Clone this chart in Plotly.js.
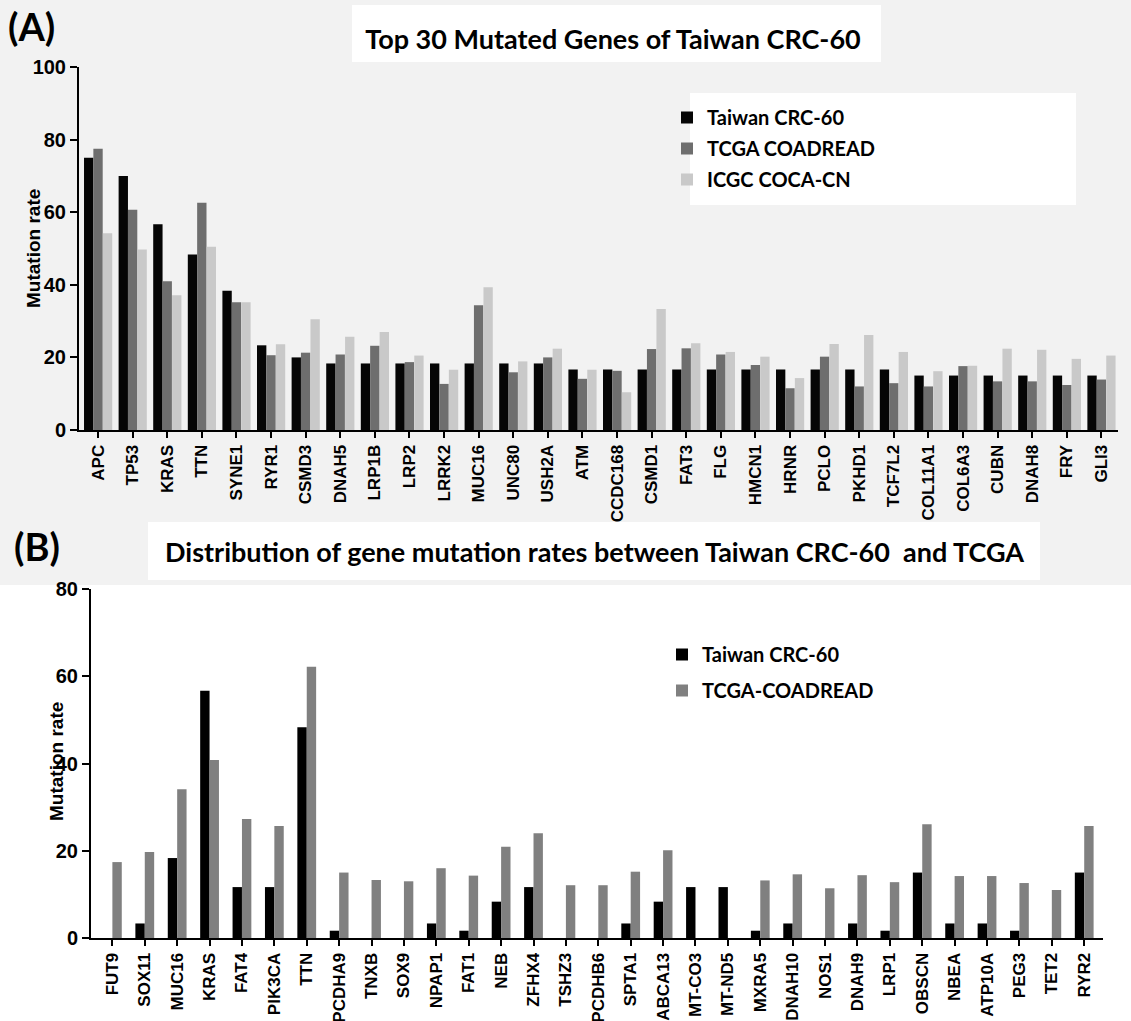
<!DOCTYPE html>
<html>
<head>
<meta charset="utf-8">
<script src="https://cdn.plot.ly/plotly-3.0.1.min.js"></script>
<style>html,body{margin:0;padding:0;background:#fff;}#chart{width:1131px;height:1021px;}</style>
</head>
<body>
<div id="chart"></div>
<script>
// ---------- Panel A data ----------
const genesA = ["APC","TP53","KRAS","TTN","SYNE1","RYR1","CSMD3","DNAH5","LRP1B","LRP2","LRRK2","MUC16","UNC80","USH2A","ATM","CCDC168","CSMD1","FAT3","FLG","HMCN1","HRNR","PCLO","PKHD1","TCF7L2","COL11A1","COL6A3","CUBN","DNAH8","FRY","GLI3"];
const taiwanA = [75,70,56.67,48.33,38.33,23.33,20,18.33,18.33,18.33,18.33,18.33,18.33,18.33,16.67,16.67,16.67,16.67,16.67,16.67,16.67,16.67,16.67,16.67,15,15,15,15,15,15];
const tcgaA = [77.5,60.7,41.0,62.6,35.2,20.6,21.3,20.8,23.2,18.7,12.7,34.4,15.9,20.0,14.1,16.3,22.3,22.5,20.8,17.9,11.5,20.2,12.0,12.9,12.0,17.6,13.4,13.4,12.4,13.9];
const icgcA = [54.2,49.7,37.1,50.5,35.2,23.6,30.5,25.7,27.0,20.5,16.6,39.3,18.9,22.4,16.6,10.4,33.3,23.9,21.5,20.2,14.3,23.7,26.2,21.5,16.2,17.7,22.4,22.1,19.6,20.5];
const seriesA = ["Taiwan CRC-60","TCGA COADREAD","ICGC COCA-CN"];

// ---------- Panel B data ----------
const genesB = ["FUT9","SOX11","MUC16","KRAS","FAT4","PIK3CA","TTN","PCDHA9","TNXB","SOX9","NPAP1","FAT1","NEB","ZFHX4","TSHZ3","PCDHB6","SPTA1","ABCA13","MT-CO3","MT-ND5","MXRA5","DNAH10","NOS1","DNAH9","LRP1","OBSCN","NBEA","ATP10A","PEG3","TET2","RYR2"];
const taiwanB = [0,3.33,18.33,56.67,11.67,11.67,48.33,1.67,0,0,3.33,1.67,8.33,11.67,0,0,3.33,8.33,11.67,11.67,1.67,3.33,0,3.33,1.67,15,3.33,3.33,1.67,0,15];
const tcgaB = [17.4,19.7,34.1,40.8,27.3,25.7,62.2,15.0,13.3,13.0,16.0,14.3,20.9,24.0,12.1,12.1,15.2,20.1,0,0,13.2,14.6,11.4,14.4,12.8,26.1,14.2,14.2,12.6,11.0,25.7];
const seriesB = ["Taiwan CRC-60","TCGA-COADREAD"];

const titleA = "Top 30 Mutated Genes of Taiwan CRC-60";
const titleB = "Distribution of gene mutation rates between Taiwan CRC-60  and TCGA";

// ---------- helpers (pixel -> paper) ----------
const W = 1131, H = 1021;
const px = x => x / W;
const py = y => 1 - y / H;

const tickFont = {family: "Liberation Sans, Arial, sans-serif", size: 17, color: "#000", weight: "bold"};
const yTickFont = {family: "Liberation Sans, Arial, sans-serif", size: 20, color: "#000", weight: "bold"};
const calFont = {family: "Lato, 'Open Sans', sans-serif", color: "#000", weight: "bold"};

const wA = 0.27, wB = 0.29;
const traces = [
  {type: "bar", name: seriesA[0], x: genesA, y: taiwanA, xaxis: "x", yaxis: "y", width: wA, offset: -0.405, marker: {color: "#050505"}, legend: "legend", legendgroup: "a1"},
  {type: "bar", name: seriesA[1], x: genesA, y: tcgaA, xaxis: "x", yaxis: "y", width: wA, offset: -0.135, marker: {color: "#6e6e6e"}, legend: "legend", legendgroup: "a2"},
  {type: "bar", name: seriesA[2], x: genesA, y: icgcA, xaxis: "x", yaxis: "y", width: wA, offset: 0.14, marker: {color: "#c9c9c9"}, legend: "legend", legendgroup: "a3"},
  {type: "bar", name: seriesB[0], x: genesB, y: taiwanB, xaxis: "x2", yaxis: "y2", width: wB, offset: -0.29, marker: {color: "#000000"}, legend: "legend2", legendgroup: "b1"},
  {type: "bar", name: seriesB[1], x: genesB, y: tcgaB, xaxis: "x2", yaxis: "y2", width: wB, offset: 0, marker: {color: "#808080"}, legend: "legend2", legendgroup: "b2"}
];

const xCommon = {
  type: "category", showline: true, linecolor: "#000", linewidth: 2, mirror: false,
  ticks: "outside", ticklen: 6, tickwidth: 2, tickcolor: "#000",
  tickangle: -90, tickfont: tickFont, showgrid: false, zeroline: false, automargin: false, fixedrange: true
};
const yCommon = {
  showline: true, linecolor: "#000", linewidth: 2, ticks: "outside", ticklen: 7, tickwidth: 2, tickcolor: "#000",
  tickfont: yTickFont, showgrid: false, zeroline: false, dtick: 20, automargin: false
};

const layout = {
  width: W, height: H,
  margin: {l: 0, r: 0, t: 0, b: 0},
  paper_bgcolor: "#ffffff", plot_bgcolor: "rgba(0,0,0,0)",
  showlegend: true,
  barmode: "group",
  title: {text: titleA, x: px(613), y: py(40), xanchor: "center", yanchor: "middle", xref: "paper", yref: "paper",
          font: Object.assign({size: 27}, calFont)},
  xaxis: Object.assign({}, xCommon, {domain: [px(79), px(1118)], range: [-0.55, 29.48], anchor: "y"}),
  yaxis: Object.assign({}, yCommon, {domain: [py(430), py(67)], range: [0, 100], anchor: "x"}),
  xaxis2: Object.assign({}, xCommon, {domain: [px(91), px(1103)], range: [-0.66, 30.58], anchor: "y2"}),
  yaxis2: Object.assign({}, yCommon, {domain: [py(938), py(589)], range: [0, 80], anchor: "x2"}),
  legend: {x: px(667), y: py(98), xanchor: "left", yanchor: "top", bgcolor: "rgba(0,0,0,0)",
           font: Object.assign({size: 20}, calFont), traceorder: "grouped", tracegroupgap: 2},
  legend2: {x: px(662), y: py(635), xanchor: "left", yanchor: "top", bgcolor: "rgba(0,0,0,0)",
            font: Object.assign({size: 20}, calFont), traceorder: "grouped", tracegroupgap: 7},
  shapes: [
    {type: "rect", xref: "paper", yref: "paper", x0: 0, x1: 1, y0: py(585), y1: 1, fillcolor: "#f2f2f2", line: {width: 0}, layer: "below"},
    {type: "rect", xref: "paper", yref: "paper", x0: px(352), x1: px(881), y0: py(62), y1: py(5), fillcolor: "#ffffff", line: {width: 0}, layer: "below"},
    {type: "rect", xref: "paper", yref: "paper", x0: px(690), x1: px(1076), y0: py(205), y1: py(93), fillcolor: "#ffffff", line: {width: 0}, layer: "below"},
    {type: "rect", xref: "paper", yref: "paper", x0: px(148), x1: px(1040), y0: py(580), y1: py(522), fillcolor: "#ffffff", line: {width: 0}, layer: "below"}
  ],
  annotations: [
    {text: "(A)", xref: "paper", yref: "paper", x: px(6), y: py(26), xanchor: "left", yanchor: "middle", showarrow: false,
     font: Object.assign({size: 38}, calFont)},
    {text: "(B)", xref: "paper", yref: "paper", x: px(12), y: py(546), xanchor: "left", yanchor: "middle", showarrow: false,
     font: Object.assign({size: 38}, calFont)},
    {text: titleB, xref: "paper", yref: "paper", x: px(594), y: py(551), xanchor: "center", yanchor: "middle", showarrow: false,
     font: Object.assign({size: 27}, calFont)},
    {text: "Mutation rate", xref: "paper", yref: "paper", x: px(33), y: py(249), xanchor: "center", yanchor: "middle", showarrow: false,
     textangle: -90, font: {family: "Liberation Sans, Arial, sans-serif", size: 19, color: "#000", weight: "bold"}},
    {text: "Mutation rate", xref: "paper", yref: "paper", x: px(56), y: py(762), xanchor: "center", yanchor: "middle", showarrow: false,
     textangle: -90, font: {family: "Liberation Sans, Arial, sans-serif", size: 19, color: "#000", weight: "bold"}}
  ]
};

Plotly.newPlot("chart", traces, layout, {displayModeBar: false, staticPlot: true});
</script>
</body>
</html>
